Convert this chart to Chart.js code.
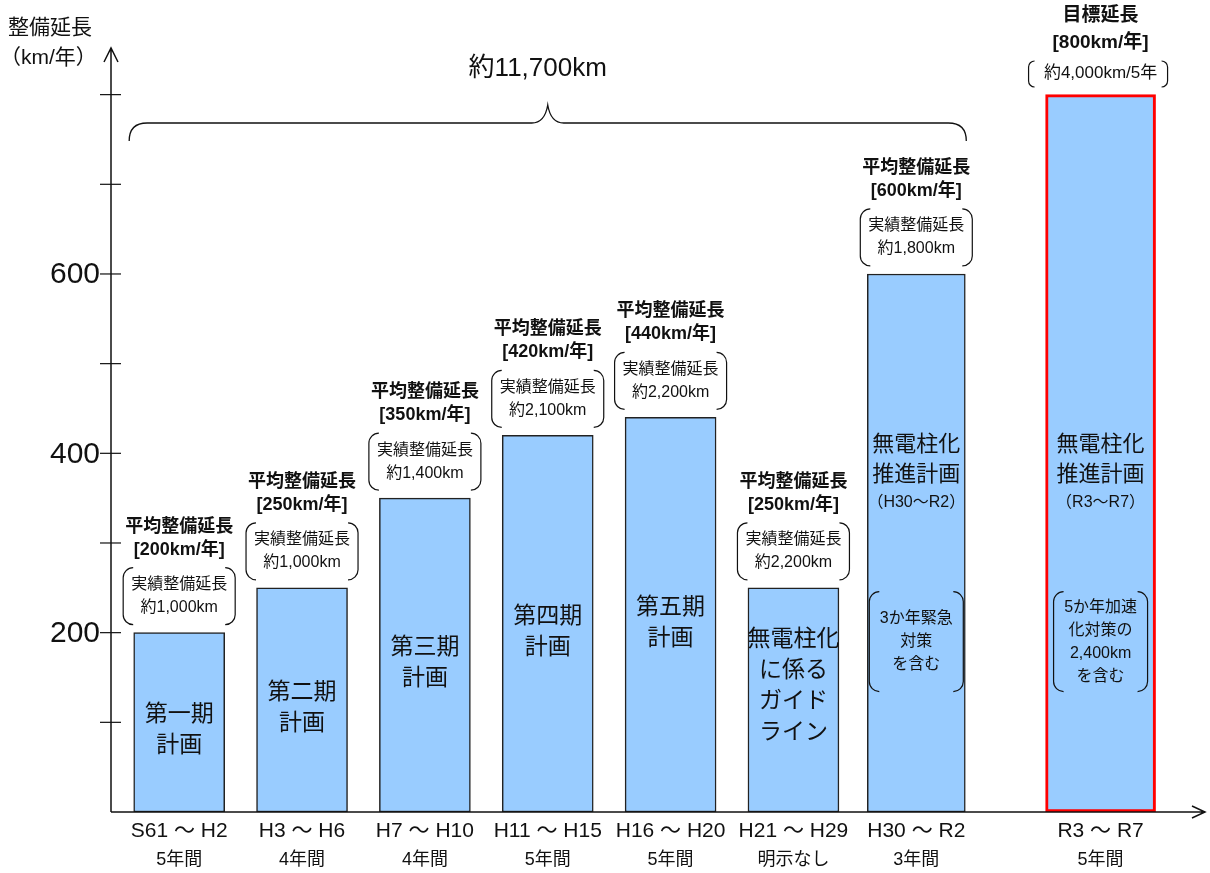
<!DOCTYPE html>
<html>
<head>
<meta charset="utf-8">
<script src="https://cdn.jsdelivr.net/npm/chart.js@4"></script>
<style>
  html, body { margin: 0; padding: 0; background: #fff; }
  #chart { display: block; }
</style>
</head>
<body>
<canvas id="chart" width="1210" height="873"></canvas>
<script>
// values
const periods = ['S61 ～ H2', 'H3 ～ H6', 'H7 ～ H10', 'H11 ～ H15', 'H16 ～ H20', 'H21 ～ H29', 'H30 ～ R2', 'R3 ～ R7'];
const durations = ['5年間', '4年間', '4年間', '5年間', '5年間', '明示なし', '3年間', '5年間'];
const avgLength = [200, 250, 350, 420, 440, 250, 600, 800];
const actualTotals = ['約1,000km', '約1,000km', '約1,400km', '約2,100km', '約2,200km', '約2,200km', '約1,800km', null];
const planNames = [
    ['第一期', '計画'], ['第二期', '計画'], ['第三期', '計画'], ['第四期', '計画'], ['第五期', '計画'],
    ['無電柱化', 'に係る', 'ガイド', 'ライン'], ['無電柱化', '推進計画'], ['無電柱化', '推進計画']
];
const planSpans = [null, null, null, null, null, null, '（H30～R2）', '（R3～R7）'];
const planNotes = [null, null, null, null, null, null, ['3か年緊急', '対策', 'を含む'], ['5か年加速', '化対策の', '2,400km', 'を含む']];
const totalActual = '約11,700km';
const targetHeading = '目標延長';
const targetRate = '[800km/年]';
const targetTotal = '約4,000km/5年';
const yTitle = ['整備延長', '（km/年）'];
const yTickLabels = [200, 400, 600];

const FONT = '"Liberation Sans", "Noto Sans CJK JP", sans-serif';
const BLUE = '#99ccff';

// the target bar sits a half slot further right
const slot = i => i < 7 ? i : i + 0.5;
const pts = idx => idx.map(i => ({ x: slot(i), y: avgLength[i] }));

function bracketBox(ctx, x0, y0, x1, y1, r) {
    ctx.beginPath();
    ctx.moveTo(x0 + r, y0);
    ctx.arcTo(x0, y0, x0, y0 + r, r);
    ctx.lineTo(x0, y1 - r);
    ctx.arcTo(x0, y1, x0 + r, y1, r);
    ctx.moveTo(x1 - r, y0);
    ctx.arcTo(x1, y0, x1, y0 + r, r);
    ctx.lineTo(x1, y1 - r);
    ctx.arcTo(x1, y1, x1 - r, y1, r);
    ctx.stroke();
}

function lines(ctx, arr, cx, cy, step) {
    const start = cy - (arr.length - 1) * step / 2;
    arr.forEach((t, k) => ctx.fillText(t, cx, start + k * step));
}

const decorations = {
    id: 'decorations',
    afterDatasetsDraw(chart) {
        const { ctx, scales: { x, y }, chartArea: area } = chart;
        const base = y.getPixelForValue(0);
        ctx.save();
        ctx.strokeStyle = '#111';
        ctx.fillStyle = '#111';
        ctx.textAlign = 'center';
        ctx.textBaseline = 'middle';

        // axes with arrows
        ctx.lineWidth = 1.5;
        ctx.beginPath();
        ctx.moveTo(area.left, base);
        ctx.lineTo(area.left, area.top);
        ctx.moveTo(area.left - 7, area.top + 14);
        ctx.lineTo(area.left, area.top);
        ctx.lineTo(area.left + 7, area.top + 14);
        ctx.moveTo(area.left, base);
        ctx.lineTo(area.right, base);
        ctx.moveTo(area.right - 13, base - 6);
        ctx.lineTo(area.right, base);
        ctx.lineTo(area.right - 13, base + 6);
        ctx.stroke();

        ctx.lineWidth = 1.2;
        for (let v = 100; v <= 800; v += 100) {
            const py = y.getPixelForValue(v);
            ctx.beginPath();
            ctx.moveTo(area.left - 11, py);
            ctx.lineTo(area.left + 10, py);
            ctx.stroke();
        }
        ctx.textAlign = 'right';
        ctx.font = '30px ' + FONT;
        yTickLabels.forEach(v => ctx.fillText(String(v), area.left - 11, y.getPixelForValue(v) + 1));

        ctx.textAlign = 'left';
        ctx.font = '21px ' + FONT;
        ctx.fillText(yTitle[0], 8, 28);
        ctx.fillText(yTitle[1], 0, 58);
        ctx.textAlign = 'center';

        avgLength.forEach((v, i) => {
            const cx = x.getPixelForValue(slot(i));
            const top = y.getPixelForValue(v);

            // period labels below the axis
            ctx.font = '21px ' + FONT;
            ctx.fillText(periods[i], cx, 831);
            ctx.font = '18px ' + FONT;
            ctx.fillText(durations[i], cx, 860);

            // plan names inside the bars
            if (i < 6) {
                const step = 31;
                const off = planNames[i].length === 2 ? 8 : -14;
                ctx.font = '23px ' + FONT;
                lines(ctx, planNames[i], cx, (top + base) / 2 + off, step);
            } else {
                const p400 = y.getPixelForValue(400);
                ctx.font = '22px ' + FONT;
                ctx.fillText(planNames[i][0], cx, p400 - 8);
                ctx.fillText(planNames[i][1], cx, p400 + 22);
                ctx.font = '16px ' + FONT;
                ctx.fillText(planSpans[i], cx, p400 + 49);
                const note = planNotes[i];
                const nc = y.getPixelForValue(190);
                ctx.lineWidth = 1.2;
                bracketBox(ctx, cx - 47, nc - 50, cx + 47, nc + 50, 10);
                ctx.font = '16px ' + FONT;
                lines(ctx, note, cx, nc, 23);
            }

            // average / actual labels above the bars
            if (i < 7) {
                ctx.font = 'bold 18px ' + FONT;
                ctx.fillText('平均整備延長', cx, top - 106);
                ctx.fillText('[' + v + 'km/年]', cx, top - 83);
                ctx.lineWidth = 1.2;
                bracketBox(ctx, cx - 56, top - 65, cx + 56, top - 8, 10);
                ctx.font = '16px ' + FONT;
                ctx.fillText('実績整備延長', cx, top - 48);
                ctx.fillText(actualTotals[i], cx, top - 25);
            } else {
                ctx.font = 'bold 19px ' + FONT;
                ctx.fillText(targetHeading, cx, 16);
                ctx.fillText(targetRate, cx, 43);
                ctx.font = '17px ' + FONT;
                ctx.fillText(targetTotal, cx, 73);
                ctx.lineWidth = 1.2;
                bracketBox(ctx, cx - 72, 61, cx + 67, 87, 6);
            }
        });

        // brace over the past plans
        const bx0 = x.getPixelForValue(0) - 50;
        const bx1 = x.getPixelForValue(6) + 50;
        const bm = (bx0 + bx1) / 2;
        const by = 123;
        ctx.lineWidth = 1.3;
        ctx.beginPath();
        ctx.moveTo(bx0, by + 18);
        ctx.quadraticCurveTo(bx0, by, bx0 + 18, by);
        ctx.lineTo(bm - 16, by);
        ctx.quadraticCurveTo(bm - 3, by, bm, by - 18);
        ctx.quadraticCurveTo(bm + 3, by, bm + 16, by);
        ctx.lineTo(bx1 - 18, by);
        ctx.quadraticCurveTo(bx1, by, bx1, by + 18);
        ctx.stroke();
        ctx.font = '26px ' + FONT;
        ctx.fillText(totalActual, bm - 10, 69);

        ctx.restore();
    }
};

new Chart(document.getElementById('chart').getContext('2d'), {
    type: 'bar',
    data: {
        datasets: [
            {
                data: pts([0, 1, 2, 3, 4, 5]),
                backgroundColor: BLUE,
                borderColor: '#222',
                borderWidth: 1.5,
                borderSkipped: false,
                barThickness: 91,
            },
            {
                data: pts([6]),
                backgroundColor: BLUE,
                borderColor: '#222',
                borderWidth: 1.5,
                borderSkipped: false,
                barThickness: 98,
            },
            {
                data: pts([7]),
                backgroundColor: BLUE,
                borderColor: '#ff0000',
                borderWidth: 3,
                borderSkipped: false,
                barThickness: 110,
            }
        ]
    },
    options: {
        responsive: false,
        animation: false,
        grouped: false,
        layout: { padding: { left: 111, right: 5, top: 48, bottom: 61 } },
        scales: {
            x: { type: 'linear', offset: false, min: -0.555, max: 8.35, display: false },
            y: { min: 0, max: 852, display: false }
        },
        plugins: {
            legend: { display: false },
            tooltip: { enabled: false }
        }
    },
    plugins: [decorations]
});
</script>
</body>
</html>
